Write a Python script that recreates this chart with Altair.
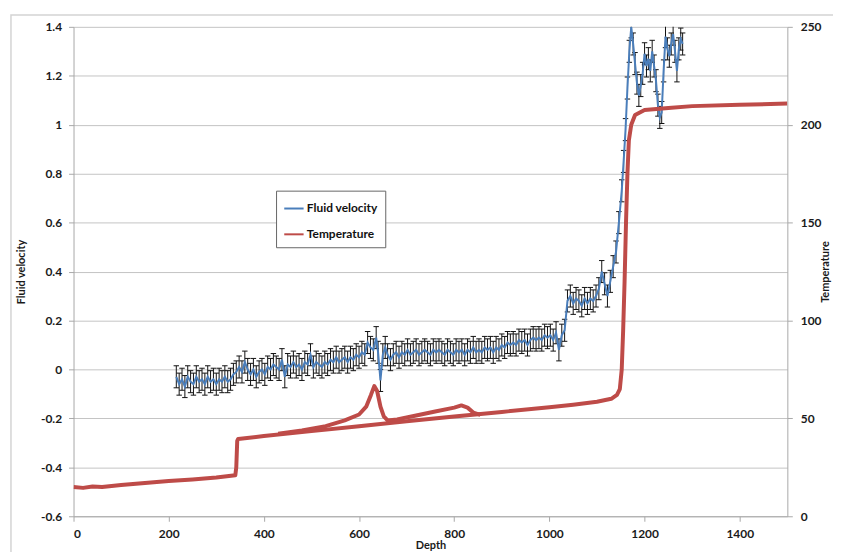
import altair as alt
import pandas as pd

# ---------------- data ----------------
vel_depth = [216, 222, 228, 234, 240, 246, 252, 258, 264, 270, 276, 282, 288, 294, 300, 306, 312, 318, 324, 330,
             336, 342, 348, 354, 360, 366, 372, 378, 384, 390, 396, 402, 408, 414, 420, 426, 432, 438, 444, 450,
             456, 462, 468, 474, 480, 486, 492, 498, 504, 510, 516, 522, 528, 534, 540, 546, 552, 558, 564, 570,
             576, 582, 588, 594, 600, 606, 612, 618, 624, 630, 636, 640, 645, 650, 655, 660, 666, 672, 678, 684,
             690, 696, 702, 708, 714, 720, 726, 732, 738, 744, 750, 756, 762, 768, 774, 780, 786, 792, 798, 804,
             810, 816, 822, 828, 834, 840, 846, 852, 858, 864, 870, 876, 882, 888, 894, 900, 906, 912, 918, 924,
             930, 936, 942, 948, 954, 960, 966, 972, 978, 984, 990, 996, 1002, 1008, 1014, 1020, 1026, 1032, 1038, 1044,
             1050, 1056, 1062, 1068, 1074, 1080, 1086, 1092, 1098, 1104, 1110, 1116, 1122, 1128, 1134, 1140, 1146, 1152, 1156, 1160,
             1164, 1168, 1172, 1176, 1180, 1184, 1188, 1192, 1196, 1200, 1204, 1208, 1212, 1216, 1220, 1224, 1228, 1232, 1236, 1240,
             1244, 1248, 1252, 1256, 1260, 1264, 1268, 1272, 1276, 1280]
vel_value = [-0.03, -0.06, -0.04, -0.07, -0.03, -0.05, -0.06, -0.03, -0.05, -0.04, -0.06, -0.03, -0.05, -0.04, -0.06, -0.04, -0.05, -0.03, -0.05, -0.04,
             -0.02, -0.01, 0.01, -0.01, 0.03, 0.00, -0.02, 0.00, -0.03, -0.01, 0.00, -0.02, 0.01, 0.00, 0.02, 0.01, 0.00, 0.04, -0.03, 0.02,
             0.01, 0.03, 0.01, 0.02, 0.00, 0.03, 0.02, 0.06, 0.01, 0.03, 0.02, 0.01, 0.03, 0.02, 0.04, 0.03, 0.05, 0.03, 0.04, 0.05,
             0.03, 0.05, 0.04, 0.06, 0.05, 0.07, 0.06, 0.11, 0.09, 0.08, 0.13, 0.07, -0.045, 0.06, 0.09, 0.06, 0.04, 0.06, 0.07, 0.05,
             0.07, 0.06, 0.08, 0.06, 0.07, 0.08, 0.06, 0.07, 0.08, 0.07, 0.06, 0.08, 0.07, 0.08, 0.07, 0.06, 0.08, 0.07, 0.06, 0.08,
             0.07, 0.08, 0.06, 0.08, 0.07, 0.09, 0.07, 0.08, 0.07, 0.09, 0.08, 0.09, 0.07, 0.09, 0.08, 0.10, 0.09, 0.11, 0.10, 0.11,
             0.10, 0.12, 0.11, 0.12, 0.10, 0.12, 0.13, 0.12, 0.13, 0.12, 0.14, 0.13, 0.14, 0.12, 0.15, 0.08, 0.14, 0.16, 0.28, 0.30,
             0.27, 0.29, 0.28, 0.26, 0.29, 0.27, 0.29, 0.28, 0.30, 0.33, 0.40, 0.35, 0.30, 0.36, 0.42, 0.48, 0.60, 0.73, 0.85, 0.98,
             1.15, 1.30, 1.40, 1.33, 1.25, 1.17, 1.12, 1.16, 1.21, 1.29, 1.24, 1.27, 1.22, 1.30, 1.24, 1.18, 1.08, 1.03, 1.05, 1.22,
             1.36, 1.31, 1.28, 1.33, 1.37, 1.30, 1.22, 1.31, 1.35, 1.33]
vel_err = 0.045

temp_depth = [0, 20, 40, 60, 100, 150, 200, 250, 300, 340, 342, 344, 346, 400, 500, 600, 700, 800, 900, 1000,
              1050, 1100, 1130, 1142, 1148, 1152, 1155, 1158, 1161, 1164, 1167, 1172, 1180, 1200, 1250, 1300, 1400, 1500]
temp_value = [15.0, 14.5, 15.2, 15.0, 16.0, 17.0, 18.0, 18.8, 19.8, 21.0, 25.0, 38.5, 39.5, 41.0, 43.5, 46.0, 48.5, 51.0, 53.3, 55.7,
              57.0, 58.5, 60.0, 62.0, 65.0, 75.0, 95.0, 120.0, 150.0, 175.0, 192.0, 200.0, 205.0, 207.5, 208.5, 209.5, 210.2, 210.8]

loop_depth = [430, 480, 530, 570, 600, 615, 625, 632, 638, 645, 652, 660, 680, 720, 760, 800, 815, 828, 840, 855]
loop_value = [42.2, 43.8, 46.0, 49.0, 52.0, 56.0, 62.0, 66.5, 64.0, 56.0, 51.0, 49.0, 49.5, 51.5, 53.5, 55.5, 56.6, 55.5, 53.0, 51.8]

series_names = ["Fluid velocity", "Temperature"]
x_ticks = [0, 200, 400, 600, 800, 1000, 1200, 1400]
v_ticks = [-0.6, -0.4, -0.2, 0.0, 0.2, 0.4, 0.6, 0.8, 1.0, 1.2, 1.4]
t_ticks = [0, 50, 100, 150, 200, 250]

# ---------------- styling ----------------
BLUE = "#4a7ebb"
RED = "#be4b48"
FONT = "Lato"
W, H = 719, 493

vel_df = pd.DataFrame({"Depth": vel_depth, "v": vel_value})
vel_df["series"] = series_names[0]
vel_df["lo"] = vel_df["v"] - vel_err
vel_df["hi"] = vel_df["v"] + vel_err

temp_df = pd.concat([
    pd.DataFrame({"Depth": temp_depth, "T": temp_value, "seg": "main"}),
    pd.DataFrame({"Depth": loop_depth, "T": loop_value, "seg": "loop"}),
], ignore_index=True)
temp_df["series"] = series_names[1]

x_enc = alt.X("Depth:Q", scale=alt.Scale(domain=[0, 1500], nice=False),
              axis=alt.Axis(values=x_ticks, grid=False, title="Depth", format="d",
                            titleY=23, titleBaseline="top", labelPadding=7))

v_axis = alt.Axis(values=v_ticks, title="Fluid velocity", grid=True, orient="left",
                  labelExpr="replace(format(datum.value, '~g'), '\u2212', '-')", labelPadding=7,
                  titleX=-52, titleY=H / 2, titleAngle=-90, titleAlign="center", titleBaseline="middle")
v_scale = alt.Scale(domain=[-0.6, 1.4], nice=False)

color = alt.Color("series:N",
                  scale=alt.Scale(domain=series_names, range=[BLUE, RED]),
                  legend=alt.Legend(title=None, orient="none", legendX=204, legendY=165,
                                    strokeColor="#666", fillColor="white", padding=7,
                                    symbolType="stroke", symbolSize=380, symbolStrokeWidth=2,
                                    labelFont=FONT, labelFontWeight="bold", labelFontSize=12,
                                    labelColor="#111", rowPadding=9, labelOffset=2))

frame = alt.Chart(pd.DataFrame({"k": [0]})).mark_rect(
    fill="white", fillOpacity=0, stroke="#d4d4d4", strokeWidth=1.5
).encode(x=alt.value(-63), x2=alt.value(W + 80), y=alt.value(-12), y2=alt.value(H + 60))

err_rule = alt.Chart(vel_df).mark_rule(color="#111", strokeWidth=1, clip=True).encode(
    x=x_enc, y=alt.Y("lo:Q", scale=v_scale, axis=v_axis), y2="hi:Q")

caps = alt.Chart(vel_df).transform_fold(["lo", "hi"], as_=["end", "val"]).mark_point(
    shape="M-1,0H1", size=30, filled=False, color="#111", strokeWidth=1, opacity=1, clip=True
).encode(x=x_enc, y=alt.Y("val:Q", scale=v_scale, axis=v_axis))

vel_line = alt.Chart(vel_df).mark_line(strokeWidth=2, clip=True).encode(
    x=x_enc, y=alt.Y("v:Q", scale=v_scale, axis=v_axis), color=color)

vel_layer = alt.layer(err_rule, caps, vel_line)

temp_line = alt.Chart(temp_df).mark_line(strokeWidth=4, clip=True, strokeJoin="round").encode(
    x=x_enc,
    y=alt.Y("T:Q", scale=alt.Scale(domain=[0, 250], nice=False),
            axis=alt.Axis(values=t_ticks, orient="right", grid=False, title="Temperature",
                          labelPadding=8, titleX=38, titleY=H / 2, titleAngle=-90,
                          titleAlign="center", titleBaseline="middle")),
    color=color, detail="seg:N")

chart = alt.layer(frame, vel_layer, temp_line).resolve_scale(y="independent").properties(
    width=W, height=H,
    autosize=alt.AutoSizeParams(type="none"),
    padding={"left": 66, "top": 17, "right": 46, "bottom": 34},
).configure_view(stroke=None).configure_axis(
    labelFont=FONT, labelFontWeight="bold", labelFontSize=12, labelColor="#1a1a1a",
    titleFont=FONT, titleFontWeight="bold", titleFontSize=11, titleColor="#1a1a1a",
    domainColor="#a8a8a8", tickColor="#a8a8a8", gridColor="#c4c4c4", gridWidth=1,
    tickSize=5,
)

chart.save("out.html", embed_options={"renderer": "svg", "actions": False})
